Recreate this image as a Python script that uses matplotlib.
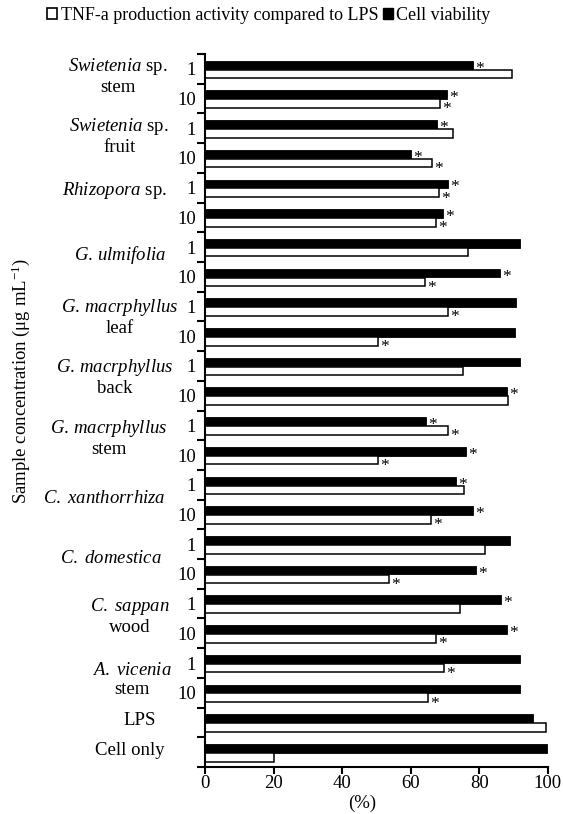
import matplotlib
matplotlib.use("Agg")
import matplotlib.pyplot as plt
from matplotlib.patches import Patch
import numpy as np

plt.rcParams['font.family'] = ['Liberation Serif', 'DejaVu Serif']
plt.rcParams['mathtext.fontset'] = 'custom'
plt.rcParams['mathtext.rm'] = 'Liberation Serif'
plt.rcParams['mathtext.it'] = 'Liberation Serif:italic'
plt.rcParams['mathtext.default'] = 'regular'

# ---------------- data ----------------
sample_names = [
    "$\\mathit{Swietenia}$ sp.\nstem",
    "$\\mathit{Swietenia}$ sp.\nfruit",
    "$\\mathit{Rhizopora}$ sp.",
    "$\\mathit{G.\\,ulmifolia}$",
    "$\\mathit{G.\\,macrphyllus}$\nleaf",
    "$\\mathit{G.\\,macrphyllus}$\nback",
    "$\\mathit{G.\\,macrphyllus}$\nstem",
    "$\\mathit{C.\\ xanthorrhiza}$",
    "$\\mathit{C.\\ domestica}$",
    "$\\mathit{C.\\ sappan}$\nwood",
    "$\\mathit{A.\\ vicenia}$\nstem",
    "LPS",
    "Cell only",
]
concentrations = ["1", "10"] * 11

tnf = [89.7, 68.5, 72.3, 66.2, 68.3, 67.3, 76.6, 64.3, 70.9, 50.5, 75.2, 88.3,
       71.0, 50.4, 75.7, 65.9, 81.7, 53.8, 74.3, 67.3, 69.8, 65.2, 99.5, 20.0]
viability = [78.3, 70.5, 67.7, 60.2, 70.9, 69.4, 91.9, 86.1, 90.7, 90.6, 91.9, 88.0,
             64.5, 76.1, 73.3, 78.3, 88.9, 79.2, 86.3, 88.0, 91.9, 91.9, 95.7, 99.9]
tnf_sig = [0, 1, 0, 1, 1, 1, 0, 1, 1, 1, 0, 0,
           1, 1, 0, 1, 0, 1, 0, 1, 1, 1, 0, 0]
viab_sig = [1, 1, 1, 1, 1, 1, 0, 1, 0, 0, 0, 1,
            1, 1, 1, 1, 0, 1, 1, 1, 0, 0, 0, 0]

# label layout (x in data units, y in row units)
name_pos = [(-25.4, 0.24), (-25.0, 2.27), (-26.4, 4.08), (-24.8, 6.27),
            (-24.8, 8.36), (-26.3, 10.37), (-28.0, 12.41), (-29.5, 14.45),
            (-27.4, 16.47), (-21.9, 18.42), (-21.3, 20.56), (-19.0, 21.93),
            (-21.9, 22.93)]

FS = 13.5

fig = plt.figure(figsize=(5.63, 8.14), dpi=100)
ax = fig.add_axes([205 / 563, 1 - 767 / 814, 342.7 / 563, 713 / 814])

n = len(tnf)
y = np.arange(n)
h = 0.29
ax.barh(y - 0.13, viability, height=h, color='black', edgecolor='black',
        linewidth=0.6, clip_on=False, zorder=2)
ax.barh(y + 0.17, tnf, height=h, color='white', edgecolor='black',
        linewidth=1.1, clip_on=False, zorder=2)

for i in range(n):
    if viab_sig[i]:
        ax.annotate('*', xy=(viability[i], i - 0.13), xytext=(1.5, -2.6),
                    textcoords='offset points', ha='left', va='center',
                    fontsize=12.5, annotation_clip=False)
    if tnf_sig[i]:
        ax.annotate('*', xy=(tnf[i], i + 0.17), xytext=(1.5, -4.2),
                    textcoords='offset points', ha='left', va='center',
                    fontsize=12.5, annotation_clip=False)

ax.set_xlim(0, 100)
ax.set_ylim(n - 0.5, -0.5)

ax.set_yticks(np.arange(-0.5, n, 1))
ax.set_yticklabels([])
ax.set_yticks(np.arange(len(concentrations)), labels=concentrations, minor=True)
ax.tick_params(axis='y', which='major', length=6, width=1.5, direction='out')
ax.tick_params(axis='y', which='minor', length=0, pad=6.5, labelsize=FS)

ax.set_xticks(np.arange(0, 101, 20))
ax.tick_params(axis='x', which='major', length=5, width=1.5, direction='out',
               pad=0.5, labelsize=FS)

for s in ['top', 'right']:
    ax.spines[s].set_visible(False)
for s in ['left', 'bottom']:
    ax.spines[s].set_linewidth(1.5)

for name, (px, py) in zip(sample_names, name_pos):
    ax.text(px, py, name, ha='center', va='center', multialignment='center',
            fontsize=FS, linespacing=1.15, clip_on=False)

fig.text(21 / 563, 1 - 381 / 814, "Sample concentration (μg mL$^{-1}$)",
         rotation=90, ha='center', va='center', fontsize=FS)
fig.text(362 / 563, 1.5 / 814, "(%)", ha='center', va='bottom', fontsize=FS)

handles = [Patch(facecolor='white', edgecolor='black', linewidth=1.2,
                 label='TNF-a production activity compared to LPS'),
           Patch(facecolor='black', edgecolor='black', label='Cell viability')]
fig.legend(handles=handles, loc='center', bbox_to_anchor=(269 / 563, 1 - 15 / 814),
           ncol=2, frameon=False, handlelength=0.55, handleheight=0.55,
           handletextpad=0.2, columnspacing=0.25, fontsize=13, borderaxespad=0,
           borderpad=0)

fig.savefig("out.png", dpi=100)
